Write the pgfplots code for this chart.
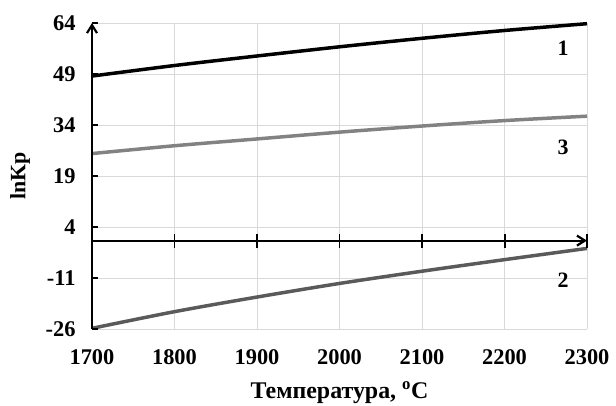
\documentclass[border=0pt]{standalone}
\usepackage{fontspec}
\setmainfont{Liberation Serif}
\usepackage{pgfplots}
\pgfplotsset{compat=1.18}
\usetikzlibrary{arrows.meta}
\definecolor{cone}{RGB}{0,0,0}
\definecolor{ctwo}{RGB}{90,90,90}
\definecolor{cthree}{RGB}{130,130,130}
\definecolor{gridc}{RGB}{217,217,217}
\begin{document}
\begin{tikzpicture}[x=1bp,y=1bp]
\useasboundingbox (-92,-76) rectangle (524,329);
\begin{axis}[at={(0,0)}, anchor=south west, scale only axis,
  width=495bp, height=306bp,
  xmin=1700, xmax=2300, ymin=-26, ymax=64,
  xtick={1700,1800,1900,2000,2100,2200,2300},
  xticklabels={1700,1800,1900,2000,2100,2200,2300},
  ytick={-26,-11,4,19,34,49,64},
  yticklabels={-26,-11,4,19,34,49,64},
  grid=major, grid style={gridc, line width=0.8pt},
  axis line style={draw=none}, major tick length=0pt,
  tick label style={font=\bfseries\fontsize{22.5}{24}\selectfont},
  xticklabel style={yshift=-17bp},
  yticklabel style={xshift=-13bp},
  xlabel={\textbf{Температура, \textsuperscript{o}C}},
  ylabel={\textbf{lnKp}},
  xlabel style={font=\bfseries\fontsize{24}{26}\selectfont, at={(axis description cs:0.5,0)}, anchor=base, yshift=-69bp},
  ylabel style={font=\bfseries\fontsize{22}{24}\selectfont, at={(axis description cs:-0.1455,0.5)}, anchor=center},
  clip=false]
\addplot[cone, line width=3.5pt, smooth] coordinates {
 (1700,48.4) (1800,51.5) (1900,54.3) (2000,57.0) (2100,59.5) (2200,61.8) (2300,63.8)};
\addplot[cthree, line width=3.5pt, smooth] coordinates {
 (1700,25.6) (1800,27.9) (1900,29.9) (2000,31.9) (2100,33.7) (2200,35.3) (2300,36.6)};
\addplot[ctwo, line width=3.5pt, smooth] coordinates {
 (1700,-25.8) (1800,-20.9) (1900,-16.6) (2000,-12.6) (2100,-9.0) (2200,-5.6) (2300,-2.3)};
% axes
\draw[black, line width=2.2pt, -{Straight Barb[length=8bp,width=10bp]}] (axis cs:1700,-26) -- (axis cs:1700,64);
\draw[black, line width=2.2pt, -{Straight Barb[length=8bp,width=10bp]}] (axis cs:1700,0) -- (axis cs:2300,0);
\pgfplotsinvokeforeach{-26,-11,4,19,34,49,64}{
  \draw[black, line width=2pt] (axis cs:1700,#1) -- ([xshift=6bp]axis cs:1700,#1);
}
\pgfplotsinvokeforeach{1800,1900,2000,2100,2200,2300}{
  \draw[black, line width=2pt] ([yshift=-7bp]axis cs:#1,0) -- ([yshift=7bp]axis cs:#1,0);
}
\node[font=\bfseries\fontsize{22}{24}\selectfont] at (axis cs:2271,56.6) {1};
\node[font=\bfseries\fontsize{22}{24}\selectfont] at (axis cs:2271,27.5) {3};
\node[font=\bfseries\fontsize{22}{24}\selectfont] at (axis cs:2271,-11.6) {2};
\end{axis}
\end{tikzpicture}
\end{document}
